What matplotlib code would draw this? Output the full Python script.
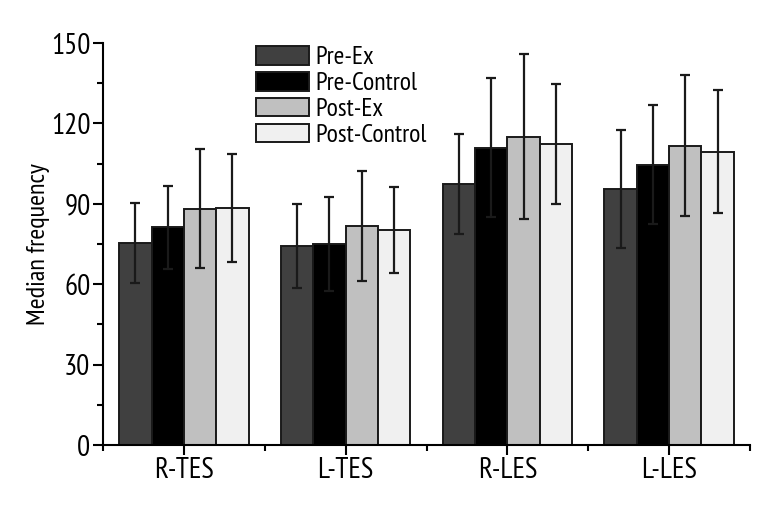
import numpy as np
import matplotlib
matplotlib.use('Agg')
import matplotlib.pyplot as plt
from matplotlib import font_manager
from matplotlib.ticker import MultipleLocator, FixedLocator

# pick a condensed sans if one is around, else fall back
have = set(f.name for f in font_manager.fontManager.ttflist)
wanted = ['PT Sans Narrow', 'Archivo Narrow', 'Roboto Condensed', 'Open Sans Condensed',
          'Fira Sans Condensed', 'Liberation Sans Narrow']
fams = [f for f in wanted if f in have][:1] + ['DejaVu Sans']
plt.rcParams['font.family'] = fams

groups = ['R-TES', 'L-TES', 'R-LES', 'L-LES']
series = ['Pre-Ex', 'Pre-Control', 'Post-Ex', 'Post-Control']
colors = ['#404040', '#000000', '#c0c0c0', '#f0f0f0']

# median frequency, group means
pre_ex = [75.4, 74.3, 97.5, 95.5]
pre_control = [81.2, 75.0, 111.0, 104.6]
post_ex = [88.2, 81.8, 115.1, 111.7]
post_control = [88.5, 80.3, 112.3, 109.4]

# standard deviations
pre_ex_sd = [15.0, 15.8, 18.6, 21.9]
pre_control_sd = [15.4, 17.5, 25.8, 22.3]
post_ex_sd = [22.1, 20.6, 30.8, 26.2]
post_control_sd = [20.2, 16.0, 22.4, 23.0]

means = [pre_ex, pre_control, post_ex, post_control]
sds = [pre_ex_sd, pre_control_sd, post_ex_sd, post_control_sd]

fig = plt.figure(figsize=(7.71, 5.14), dpi=100)
ax = fig.add_axes([103/771, 1 - 445/514, 647/771, 402/514])

x = np.arange(len(groups))
w = 0.2
for i in range(4):
    pos = x + (i - 1.5) * w
    ax.bar(pos, means[i], w, color=colors[i], edgecolor='#1a1a1a',
           linewidth=1.4, label=series[i], zorder=2)
    ax.errorbar(pos, means[i], yerr=sds[i], fmt='none', ecolor='#1a1a1a',
                elinewidth=1.6, capsize=3.8, capthick=1.6, zorder=3)

ax.set_xlim(-0.5, 3.5)
ax.set_ylim(0, 150)
ax.yaxis.set_major_locator(MultipleLocator(30))
ax.yaxis.set_minor_locator(MultipleLocator(15))
ax.set_xticks(x)
ax.set_xticklabels(groups)
ax.xaxis.set_minor_locator(FixedLocator([-0.5, 0.5, 1.5, 2.5, 3.5]))
ax.spines['top'].set_visible(False)
ax.spines['right'].set_visible(False)
for s in ['left', 'bottom']:
    ax.spines[s].set_linewidth(1.5)
ax.tick_params(axis='both', which='major', length=7, width=1.5, labelsize=21, pad=2)
ax.tick_params(axis='both', which='minor', length=4, width=1.5)
ax.set_ylabel('Median frequency', fontsize=19, labelpad=1)

ax.legend(loc='upper left', bbox_to_anchor=(0.2365, 0.9925), frameon=False,
          fontsize=18.5, handlelength=2.06, handleheight=0.74, handletextpad=0.25,
          labelspacing=0.1, borderpad=0.0, borderaxespad=0.0)

fig.savefig('out.png', dpi=100)
